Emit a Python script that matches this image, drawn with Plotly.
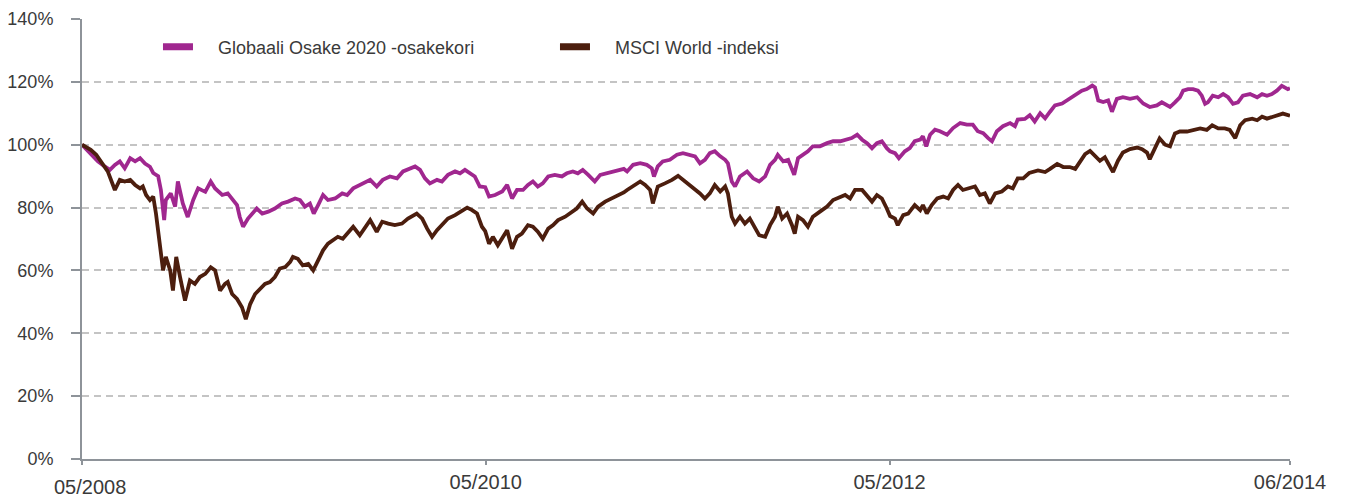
import pandas as pd
import plotly.graph_objects as go

start_date = "2008-05-30"
end_date = "2014-06-13"

# Globaali Osake 2020 -osakekori: days since start, value in %
glob_days = [0, 16, 29, 42, 51, 60, 69, 78, 88, 97, 106, 115, 124, 130, 139, 144, 150, 153, 162, 170,
             175, 184, 193, 203, 212, 225, 235, 243, 256, 266, 276, 283, 288, 294, 303, 312, 319, 329, 340, 352,
             365, 376, 389, 398, 407, 416, 423, 431, 440, 449, 462, 475, 484, 495, 502, 513, 526, 538, 549, 562,
             575, 586, 599, 608, 617, 626, 635, 648, 657, 668, 681, 690, 699, 708, 717, 726, 736, 743, 754, 767,
             776, 785, 794, 805, 814, 823, 832, 841, 851, 863, 876, 885, 896, 905, 914, 924, 936, 946, 958, 969,
             978, 989, 995, 1006, 1019, 1031, 1040, 1044, 1051, 1060, 1073, 1086, 1097, 1110, 1119, 1128, 1137, 1146, 1155, 1165,
             1174, 1179, 1186, 1192, 1201, 1214, 1225, 1236, 1247, 1256, 1265, 1270, 1280, 1289, 1296, 1300, 1307, 1316, 1325, 1334,
             1347, 1360, 1371, 1384, 1396, 1405, 1415, 1424, 1433, 1442, 1451, 1460, 1469, 1475, 1484, 1491, 1502, 1511, 1520, 1530,
             1535, 1541, 1548, 1557, 1566, 1579, 1590, 1603, 1615, 1626, 1635, 1645, 1654, 1661, 1670, 1681, 1694, 1703, 1708, 1721,
             1730, 1739, 1749, 1758, 1767, 1776, 1789, 1798, 1807, 1816, 1825, 1834, 1844, 1849, 1855, 1864, 1873, 1880, 1889, 1900,
             1913, 1926, 1937, 1949, 1962, 1971, 1977, 1986, 1995, 2004, 2010, 2019, 2028, 2037, 2044, 2050, 2055, 2064, 2074, 2083,
             2092, 2101, 2110, 2119, 2132, 2145, 2154, 2163, 2172, 2181, 2190, 2196, 2201, 2205]
glob_values = [100, 97.3, 94.7, 93, 92, 93.6, 94.7, 92.5, 95.7, 94.7, 95.7, 94, 93, 91, 90, 85.6, 76, 82.4, 84.5, 80.3,
               88.3, 81.3, 77, 82.4, 86.1, 85, 88.3, 86.1, 84, 84.5, 82.4, 80.8, 77, 73.9, 76.5, 78.1, 79.7, 78.1, 78.7, 79.7,
               81.3, 81.9, 82.9, 82.4, 80.3, 81.3, 78.1, 80.8, 84, 82.4, 82.9, 84.5, 84, 86.1, 86.7, 87.7, 88.8, 86.7, 88.8, 89.9,
               89.3, 91.5, 92.5, 93.1, 92, 89.3, 87.7, 88.8, 88.3, 90.4, 91.5, 90.9, 92, 90.9, 89.9, 86.7, 86.5, 83.5, 84, 85.1,
               87.2, 82.9, 85.6, 85.6, 87.2, 88.3, 86.7, 87.7, 89.9, 90.4, 89.9, 90.9, 91.5, 90.9, 92, 90.4, 88.3, 90.4, 90.9, 91.5,
               92, 92.3, 91.5, 93.6, 94.1, 93.6, 92.5, 89.9, 93.1, 94.7, 95.2, 96.8, 97.3, 96.8, 96.3, 94.1, 95.2, 97.3, 97.9, 96.3,
               95.2, 94.1, 88.3, 86.7, 89.9, 91.5, 89.3, 88.3, 89.9, 93.6, 95.2, 96.8, 94.7, 95.2, 92.5, 90.4, 95.7, 96.8, 97.9, 99.5,
               99.5, 100.5, 101.1, 101.1, 101.6, 102.1, 103.2, 101.6, 100.5, 98.9, 100.5, 101.1, 98.9, 97.9, 97.3, 95.7, 97.9, 98.9, 101.1, 101.6,
               102.7, 99.5, 103.2, 104.8, 104.3, 103.2, 105.3, 106.9, 106.4, 106.4, 104.3, 103.7, 102.1, 101.1, 104.3, 105.9, 106.9, 105.9, 108, 108.2,
               109.4, 107.4, 110, 108.4, 110.5, 112.5, 113.1, 114.1, 115.1, 116.2, 117.2, 117.7, 118.8, 118.2, 114.1, 113.6, 114.1, 110.5, 114.6, 115.1,
               114.6, 115.1, 113.1, 112, 112.5, 113.5, 113, 112, 113.5, 115.1, 117.2, 117.7, 117.7, 117.2, 115.6, 113, 113.5, 115.6, 115.1, 116.1,
               115.1, 113, 113.5, 115.6, 116.1, 115.1, 116.1, 115.6, 116.1, 117.2, 118.7, 118.2, 117.7, 118]

# MSCI World -indeksi: days since start, value in %
msci_days = [0, 16, 26, 35, 47, 60, 69, 78, 88, 97, 106, 111, 117, 124, 130, 135, 139, 144, 148, 153,
             161, 166, 172, 179, 188, 197, 206, 215, 225, 235, 243, 252, 261, 266, 274, 283, 292, 299, 307, 316,
             325, 334, 343, 352, 361, 371, 380, 385, 394, 403, 413, 422, 431, 440, 449, 458, 467, 476, 486, 495,
             507, 517, 526, 538, 548, 559, 571, 584, 595, 611, 621, 630, 639, 648, 657, 668, 681, 694, 703, 712,
             721, 730, 736, 743, 750, 759, 768, 776, 785, 794, 803, 814, 823, 832, 841, 851, 860, 869, 882, 894,
             903, 913, 922, 933, 942, 955, 967, 978, 989, 995, 1006, 1019, 1028, 1037, 1042, 1051, 1064, 1077, 1088, 1101,
             1110, 1119, 1128, 1137, 1146, 1155, 1165, 1174, 1179, 1186, 1192, 1201, 1210, 1219, 1228, 1236, 1247, 1256, 1265, 1270,
             1278, 1287, 1296, 1301, 1307, 1316, 1325, 1334, 1347, 1360, 1371, 1384, 1393, 1402, 1411, 1424, 1433, 1442, 1451, 1460,
             1469, 1475, 1484, 1489, 1499, 1508, 1520, 1530, 1535, 1542, 1551, 1561, 1572, 1581, 1590, 1599, 1608, 1621, 1630, 1639,
             1648, 1657, 1667, 1679, 1690, 1699, 1708, 1718, 1729, 1745, 1758, 1767, 1780, 1791, 1803, 1813, 1822, 1831, 1840, 1849,
             1858, 1867, 1876, 1882, 1891, 1900, 1913, 1926, 1935, 1944, 1949, 1959, 1967, 1977, 1986, 1995, 2004, 2017, 2028, 2041,
             2053, 2063, 2074, 2086, 2095, 2105, 2114, 2123, 2136, 2145, 2154, 2163, 2174, 2183, 2192, 2205]
msci_values = [100, 98.4, 96.8, 94.7, 91.5, 85.6, 88.8, 88.3, 88.8, 87.2, 86.1, 86.7, 84, 82.4, 83.5, 78.1, 72.8, 65.3, 60, 64.3,
               60, 53.6, 64.3, 57.9, 50.4, 56.8, 55.7, 57.9, 58.9, 61, 60, 53.6, 55.7, 56.3, 52.5, 50.9, 48.3, 44.5, 49.3, 52.5,
               54.1, 55.7, 56.3, 57.9, 60.6, 61.1, 62.7, 64.3, 63.7, 61.6, 62.1, 60, 63.2, 66.4, 68.5, 69.6, 70.7, 70.1, 72.3, 73.9,
               71.2, 73.9, 76, 72.3, 75.5, 74.9, 74.4, 74.9, 76.5, 78.1, 76.5, 73.3, 70.7, 72.8, 74.4, 76.5, 77.6, 79.2, 80, 79.2,
               78.1, 73.9, 72.5, 68.5, 70.7, 68, 70.7, 72.8, 66.9, 70.7, 71.7, 74.4, 73.9, 72.3, 70.1, 73.3, 74.4, 76, 77.1, 78.7,
               79.7, 81.9, 79.7, 78.1, 80.3, 81.9, 82.9, 84, 84.8, 85.6, 86.7, 88.3, 87.2, 85.6, 81.3, 86.7, 87.7, 88.8, 90.1, 88.3,
               86.7, 85.6, 84.5, 82.9, 84.5, 87.2, 85.1, 86.7, 84.5, 77.1, 74.9, 77.1, 74.9, 76.5, 73.8, 71.2, 70.7, 74.4, 77.1, 80.3,
               76.5, 78.1, 74.4, 71.7, 77.1, 76, 73.9, 77.1, 78.7, 80.3, 82.4, 83.3, 84, 82.9, 85.6, 85.6, 83.5, 81.9, 84, 82.9,
               79.7, 77.3, 76.5, 74.4, 77.6, 78.1, 80.8, 79.2, 80.8, 78.1, 80.8, 82.9, 83.5, 82.9, 85.6, 87.2, 85.6, 86.1, 86.7, 84,
               84.5, 81.3, 84.5, 85.1, 86.7, 86.1, 89.3, 89.3, 91, 91.8, 91.3, 92.3, 93.9, 92.9, 92.9, 92.3, 94.9, 97, 98, 96.5,
               94.9, 96, 93.4, 91.3, 94.9, 97.5, 98.6, 99.1, 98.6, 97.5, 95.4, 99.1, 102, 100, 99.5, 103.6, 104.2, 104.2, 104.7, 105.2,
               104.7, 106.2, 105.2, 105.2, 104.7, 102.1, 106.2, 107.8, 108.3, 107.8, 108.9, 108.3, 108.9, 109.4, 109.9, 109.2]

series_names = ["Globaali Osake 2020 -osakekori", "MSCI World -indeksi"]
series_colors = ["#A0278F", "#4C1E0E"]

y_tick_values = [0, 20, 40, 60, 80, 100, 120, 140]
y_tick_labels = ["0%", "20%", "40%", "60%", "80%", "100%", "120%", "140%"]
x_tick_days = [0, 737, 1474, 2205]
x_tick_labels = ["05/2008", "05/2010", "05/2012", "06/2014"]

t0 = pd.Timestamp(start_date)
def to_dates(days):
    return [t0 + pd.Timedelta(days=d) for d in days]

fig = go.Figure()
fig.add_trace(go.Scatter(x=to_dates(glob_days), y=glob_values, mode="lines",
                         line=dict(color=series_colors[0], width=3.8), showlegend=False,
                         name=series_names[0]))
fig.add_trace(go.Scatter(x=to_dates(msci_days), y=msci_values, mode="lines",
                         line=dict(color=series_colors[1], width=3.8), showlegend=False,
                         name=series_names[1]))
# legend entries (thicker swatches)
for nm, col in zip(series_names, series_colors):
    fig.add_trace(go.Scatter(x=[None], y=[None], mode="lines", name="\u00a0\u00a0\u00a0\u00a0" + nm,
                             line=dict(color=col, width=7)))

tick_dates = to_dates(x_tick_days)
# the page body adds an 8px margin, so the figure is 8px smaller than the window
fig.update_layout(
    width=1337, height=489,
    margin=dict(l=74, r=55, t=11, b=38, autoexpand=False),
    paper_bgcolor="white", plot_bgcolor="white",
    font=dict(family="Liberation Sans, Arial, sans-serif", color="#3a3a3a"),
    legend=dict(orientation="h", x=0.0629, y=0.936, xanchor="left", yanchor="middle",
                font=dict(size=18, color="#3a3a3a"), bgcolor="rgba(0,0,0,0)",
                entrywidthmode="pixels", entrywidth=352, itemclick=False),
    showlegend=True,
)
fig.update_xaxes(
    type="date", range=[tick_dates[0], tick_dates[-1]], automargin=False,
    tickmode="array", tickvals=tick_dates, ticktext=[""] + x_tick_labels[1:],
    showgrid=False, zeroline=False,
    showline=True, linecolor="#8E9399", linewidth=2,
    ticks="outside", ticklen=4, tickwidth=2, tickcolor="#8E9399",
    tickfont=dict(size=20, color="#3a3a3a"),
)
fig.update_yaxes(
    range=[0, 140], tickmode="array", tickvals=y_tick_values, ticktext=y_tick_labels,
    automargin=False,
    showgrid=True, gridcolor="#C4C4C4", gridwidth=1.5, griddash="7px,5px",
    zeroline=False, showline=True, linecolor="#8E9399", linewidth=2,
    ticks="outside", ticklen=9, tickwidth=2, tickcolor="#8E9399",
    ticklabelstandoff=14,
    tickfont=dict(size=18, color="#3a3a3a"),
)
fig.add_annotation(x=tick_dates[0], y=-(28 / 440), xref="x", yref="paper", text=x_tick_labels[0],
                   showarrow=False, yanchor="middle", xshift=8, borderpad=0,
                   font=dict(size=20, color="#3a3a3a"))

fig.write_html("out.html")
